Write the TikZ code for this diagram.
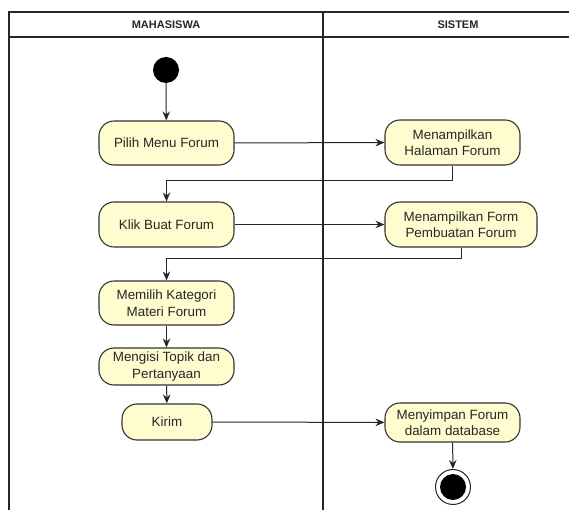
\documentclass[tikz,border=0pt]{standalone}
\usepackage{fontspec}
\setmainfont{Liberation Sans}
\usetikzlibrary{arrows.meta}
\begin{document}
\begin{tikzpicture}[x=1pt,y=-1pt,
  lane/.style={line width=1.3pt,draw=black!85},
  act/.style={draw=black!80,line width=1.1pt,fill=yellow!10!white!60!yellow!40,rounded corners=15pt,
    align=center,font=\fontsize{13.4}{16.5}\selectfont,inner sep=0pt,text=black!85},
  flow/.style={draw=black!85,line width=1pt,-{Stealth[length=9pt,width=7.5pt]}},
  head/.style={font=\bfseries\fontsize{11}{12}\selectfont,text=black!85}]
\useasboundingbox (0,0) rectangle (569,510);
% swimlane frame
\draw[lane] (9,510) -- (9,12) -- (580,12);
\draw[lane] (9,37) -- (580,37);
\draw[lane] (323,12) -- (323,510);
\node[head] (hm) at (166,25) {MAHASISWA};
\node[head] (hs) at (458,25) {SISTEM};
% activities
\fill (166,70) circle (13);
\coordinate (start) at (166,83);
\node[act,minimum width=135pt,minimum height=44pt] (pilih) at (166.5,143) {Pilih Menu Forum};
\node[act,minimum width=135pt,minimum height=45pt] (halaman) at (452.5,142.5) {Menampilkan\\Halaman Forum};
\node[act,minimum width=135pt,minimum height=45pt] (klik) at (166.5,224.5) {Klik Buat Forum};
\node[act,minimum width=152pt,minimum height=45pt] (form) at (461,224.5) {Menampilkan Form\\Pembuatan Forum};
\node[act,minimum width=135pt,minimum height=44pt] (memilih) at (166.5,303) {Memilih Kategori\\Materi Forum};
\node[act,minimum width=135pt,minimum height=37pt] (mengisi) at (166.5,366.5) {Mengisi Topik dan\\Pertanyaan};
\node[act,minimum width=90pt,minimum height=36pt] (kirim) at (167,422) {Kirim};
\node[act,minimum width=135pt,minimum height=39pt] (menyimpan) at (452.5,422.5) {Menyimpan Forum\\dalam database};
\node[circle,draw=black!85,line width=1pt,fill=white,minimum size=35pt,inner sep=0pt] (stop) at (453,487) {};
\fill (stop.center) circle (13);
% control flow
\draw[flow] (start) -- (pilih);
\draw[flow] (pilih) -- (halaman);
\draw[flow] (halaman.south) -- ++(0,15) -| (klik.north);
\draw[flow] (klik) -- (form);
\draw[flow] (form.south) -- ++(0,11) -| (memilih.north);
\draw[flow] (memilih) -- (mengisi);
\draw[flow] (mengisi) -- (kirim);
\draw[flow] (kirim) -- (menyimpan);
\draw[flow] (menyimpan) -- (stop);
\end{tikzpicture}
\end{document}
